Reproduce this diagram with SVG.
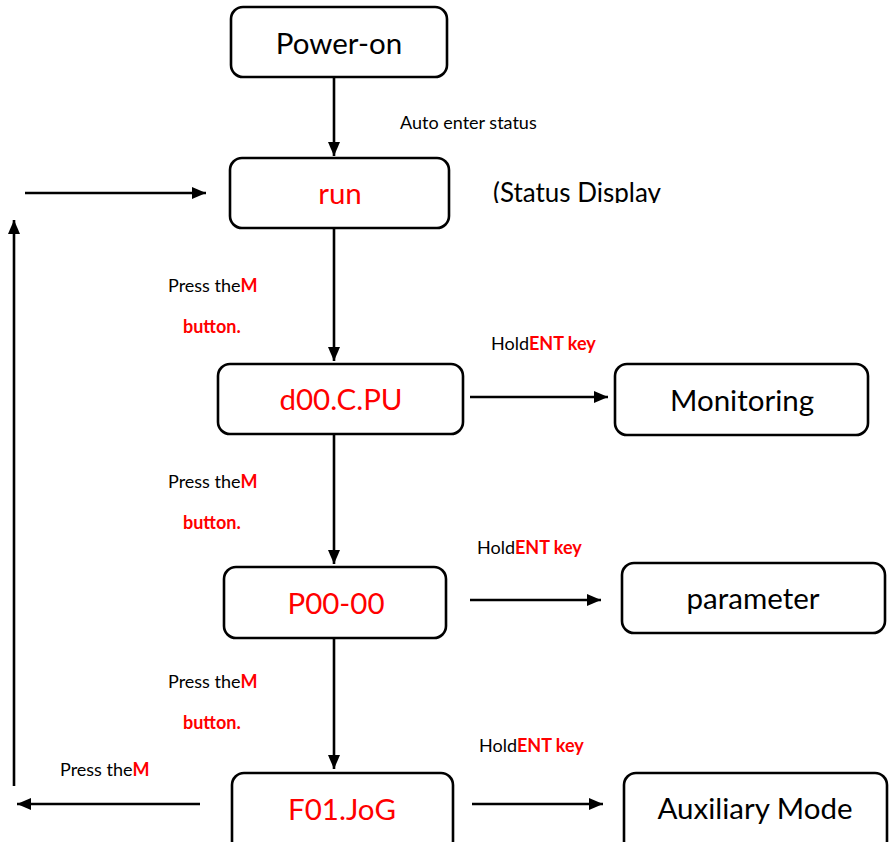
<svg xmlns="http://www.w3.org/2000/svg" width="889" height="842" viewBox="0 0 889 842">
  <style>
    .box { fill: #fff; stroke: #000; stroke-width: 2.6; }
    .line { fill: none; stroke: #000; stroke-width: 2.6; }
    .big { font-family: Lato, "Open Sans", sans-serif; font-size: 29.5px; text-anchor: middle; }
    .small { font-family: Lato, "Open Sans", sans-serif; font-size: 18px; fill: #000; }
    .red { fill: #ff0000; }
    .b { font-weight: bold; }
  </style>
  <defs>
    <marker id="arrow" viewBox="0 0 14 12" refX="14" refY="6" markerWidth="14" markerHeight="12" markerUnits="userSpaceOnUse" orient="auto">
      <path d="M0,0 L14,6 L0,12 Z" fill="#000"/>
    </marker>
    <clipPath id="note-clip">
      <rect x="480" y="170" width="220" height="33"/>
    </clipPath>
  </defs>

  <!-- connectors -->
  <g id="connectors">
    <line class="line" x1="334" y1="78" x2="334" y2="156" marker-end="url(#arrow)"/>
    <line class="line" x1="25" y1="193" x2="206" y2="193" marker-end="url(#arrow)"/>
    <line class="line" x1="14" y1="786" x2="14" y2="220" marker-end="url(#arrow)"/>
    <line class="line" x1="334" y1="228" x2="334" y2="361" marker-end="url(#arrow)"/>
    <line class="line" x1="470" y1="397" x2="608" y2="397" marker-end="url(#arrow)"/>
    <line class="line" x1="334" y1="435" x2="334" y2="564" marker-end="url(#arrow)"/>
    <line class="line" x1="470" y1="600" x2="601" y2="600" marker-end="url(#arrow)"/>
    <line class="line" x1="334" y1="638" x2="334" y2="769" marker-end="url(#arrow)"/>
    <line class="line" x1="472" y1="804" x2="603" y2="804" marker-end="url(#arrow)"/>
    <line class="line" x1="200" y1="804" x2="17" y2="804" marker-end="url(#arrow)"/>
  </g>

  <!-- nodes -->
  <g id="power-on">
    <rect class="box" x="231" y="7" width="216" height="70" rx="12"/>
    <text class="big" x="339" y="54">Power-on</text>
  </g>
  <g id="run">
    <rect class="box" x="230" y="158" width="219" height="70" rx="12"/>
    <text class="big red" x="340" y="204">run</text>
  </g>
  <g id="d00">
    <rect class="box" x="218" y="364" width="245" height="70" rx="12"/>
    <text class="big red" x="341" y="410">d00.C.PU</text>
  </g>
  <g id="monitoring">
    <rect class="box" x="615" y="364" width="253" height="71" rx="12"/>
    <text class="big" x="742" y="411">Monitoring</text>
  </g>
  <g id="p00">
    <rect class="box" x="224" y="567" width="222" height="71" rx="12"/>
    <text class="big red" x="336" y="614">P00-00</text>
  </g>
  <g id="parameter">
    <rect class="box" x="622" y="563" width="263" height="70" rx="12"/>
    <text class="big" x="753" y="609">parameter</text>
  </g>
  <g id="f01">
    <rect class="box" x="232" y="773" width="221" height="80" rx="12"/>
    <text class="big red" x="342" y="820">F01.JoG</text>
  </g>
  <g id="auxiliary">
    <rect class="box" x="624" y="773" width="263" height="80" rx="12"/>
    <text class="big" x="755" y="819">Auxiliary Mode</text>
  </g>

  <!-- labels -->
  <g id="labels">
    <text class="small" x="400" y="129">Auto enter status</text>
    <text class="big" x="493" y="202" clip-path="url(#note-clip)" style="text-anchor:start;font-size:26px">(Status Display</text>

    <text class="small" x="168" y="292">Press the<tspan class="red b">M</tspan></text>
    <text class="small red b" x="183" y="333">button.</text>
    <text class="small" x="491" y="350">Hold<tspan class="red b">ENT key</tspan></text>

    <text class="small" x="168" y="488">Press the<tspan class="red b">M</tspan></text>
    <text class="small red b" x="183" y="529">button.</text>
    <text class="small" x="477" y="554">Hold<tspan class="red b">ENT key</tspan></text>

    <text class="small" x="168" y="688">Press the<tspan class="red b">M</tspan></text>
    <text class="small red b" x="183" y="729">button.</text>
    <text class="small" x="479" y="752">Hold<tspan class="red b">ENT key</tspan></text>

    <text class="small" x="60" y="776">Press the<tspan class="red b">M</tspan></text>
  </g>
</svg>
